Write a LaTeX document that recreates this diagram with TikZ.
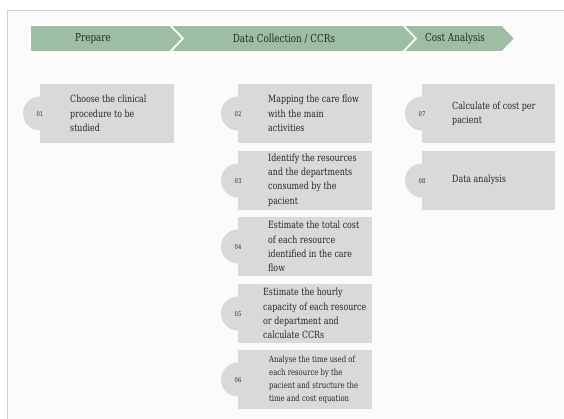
\documentclass[tikz,border=0pt]{standalone}
\usepackage{fontspec}
\setmainfont{DejaVu Serif}[FakeStretch=0.8]
\definecolor{sage}{HTML}{9DBEA3}
\definecolor{boxgrey}{HTML}{D9D9D9}
\definecolor{txt}{HTML}{262626}
\definecolor{framegrey}{HTML}{D2D2D2}
\begin{document}
\begin{tikzpicture}[x=1pt,y=-1pt,
  chev/.style={fill=sage,draw=white,line width=1.6pt,line join=miter},
  head/.style={font=\fontsize{11}{13}\selectfont,text=txt},
  stepbox/.style={fill=boxgrey,draw=none,minimum height=59pt,inner sep=0pt,anchor=north west},
  bump/.style={circle,fill=boxgrey,draw=none,minimum size=34pt,inner sep=0pt},
  num/.style={font=\fontsize{6.5}{8}\selectfont,text=txt},
  lbl/.style={font=\fontsize{9.9}{14.3}\selectfont,text=txt,align=left,anchor=west,inner sep=0pt},
  lbls/.style={font=\fontsize{8.6}{13}\selectfont,text=txt,align=left,anchor=west,inner sep=0pt}]
\useasboundingbox (0,0) rectangle (564,419);
\fill[white] (0,0) rectangle (564,419);
\fill[black!1.5] (7,11) rectangle (564,419);
\draw[framegrey,line width=1pt] (7,419) -- (7,11) -- (564,11);
% chevrons
\draw[chev] (30,25) -- (170,25) -- (183,38.5) -- (170,52) -- (30,52) -- cycle;
\draw[chev] (170,25) -- (403,25) -- (416,38.5) -- (403,52) -- (170,52) -- (183,38.5) -- cycle;
\draw[chev] (403,25) -- (502,25) -- (515,38.5) -- (502,52) -- (403,52) -- (416,38.5) -- cycle;
\node[head] (h1) at (93,38.5) {Prepare};
\node[head] (h2) at (284,38.5) {Data Collection / CCRs};
\node[head] (h3) at (455,38.5) {Cost Analysis};
% boxes
\foreach \n/\x/\y/\w in {1/40/84/134, 2/238/84/134, 3/238/151/134, 4/238/217/134, 5/238/284/134, 6/238/350/134, 7/422/84/133, 8/422/151/133}{
  \node[bump] (c\n) at (\x,\y+29.5) {};
  \node[stepbox,minimum width=\w pt] (b\n) at (\x,\y) {};
  \node[num] (n\n) at (b\n.west) {0\n};
}
\node[lbl] (t1) at (70,113.5) {Choose the clinical\\procedure to be\\studied};
\node[lbl] (t2) at (268,113.5) {Mapping the care flow\\with the main\\activities};
\node[lbl] (t3) at (268,180) {Identify the resources\\and the departments\\consumed by the\\pacient};
\node[lbl] (t4) at (268,246.5) {Estimate the total cost\\of each resource\\identified in the care\\flow};
\node[lbl] (t5) at (263,313.5) {Estimate the hourly\\capacity of each resource\\or department and\\calculate CCRs};
\node[lbls] (t6) at (269,379.5) {Analyse the time used of\\each resource by the\\pacient and structure the\\time and cost equation};
\node[lbl] (t7) at (452,113.5) {Calculate of cost per\\pacient};
\node[lbl] (t8) at (452,180) {Data analysis};
\end{tikzpicture}
\end{document}
